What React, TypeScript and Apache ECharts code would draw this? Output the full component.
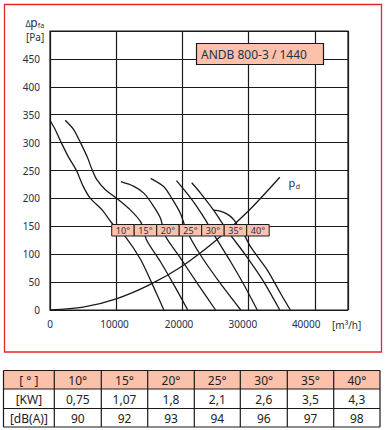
import React, { useEffect, useRef } from "react";
import * as echarts from "echarts";

// ---- data ----
const xTicks = [0, 10000, 20000, 30000, 40000];
const yTicks = [0, 50, 100, 150, 200, 250, 300, 350, 400, 450];

const curve10 = [[0, 340], [800, 323], [1700, 300], [2800, 274], [4000, 250], [5000, 222], [6100, 200], [7900, 179], [9400, 155], [11400, 131], [13700, 90], [15500, 45], [17200, 0]];
const curve15 = [[2300, 340], [3600, 323], [4600, 300], [5600, 275], [6400, 250], [7100, 233], [8400, 215], [10100, 200], [11900, 182], [13700, 158], [14600, 125], [16700, 86], [18900, 41], [20800, 0]];
const curve20 = [[10700, 230], [12600, 222], [14200, 209], [15700, 185], [16700, 164], [17400, 133], [19700, 93], [22400, 45], [25000, 0]];
const curve25 = [[15200, 236], [17200, 221], [18400, 200], [19700, 173], [20600, 143], [22700, 99], [25700, 48], [28800, 0]];
const curve30 = [[19100, 232], [20700, 209], [22200, 185], [23500, 161], [24500, 140], [27300, 86], [29200, 47], [31300, 0]];
const curve35 = [[21400, 228], [22700, 210], [24700, 179], [25700, 161], [26900, 140], [29500, 99], [32100, 54], [34700, 0]];
const curve40 = [[24700, 179], [25700, 177], [27000, 170], [27800, 161], [28300, 152], [29100, 140], [30300, 113], [32800, 72], [34800, 30], [36300, 0]];
const curvePd = [[0, 0], [5000, 5], [10000, 20], [15000, 45], [20000, 79], [25000, 124], [30000, 178], [34700, 238]];

const curveNames = ["10°", "15°", "20°", "25°", "30°", "35°", "40°"];
const curves = [curve10, curve15, curve20, curve25, curve30, curve35, curve40];

const tableHeader = "[ ° ]";
const angles = ["10°", "15°", "20°", "25°", "30°", "35°", "40°"];
const powerLabel = "[KW]";
const power = ["0,75", "1,07", "1,8", "2,1", "2,6", "3,5", "4,3"];
const noiseLabel = "[dB(A)]";
const noise = ["90", "92", "93", "94", "96", "97", "98"];

const FONT = '"Noto Sans", "Open Sans", sans-serif';
const TXT = "#23304a";
const INK = "#1a1a1a";
const SALMON = "#FCC1AA";

function txt(text: string, x: number, y: number, size: number, align = "center", fill = TXT) {
  return {
    type: "text",
    z: 100,
    style: {
      text, x, y, fill,
      font: `${size}px ${FONT}`,
      align, verticalAlign: "middle",
      textAlign: align, textVerticalAlign: "middle",
    },
  };
}

export default function App() {
  const ref = useRef<HTMLDivElement>(null);
  useEffect(() => {
    const chart = echarts.init(ref.current!, null, { renderer: "svg" });
    const graphics: any[] = [];
    // red frame
    graphics.push({ type: "rect", z: 100, shape: { x: 4.5, y: 4.5, width: 377, height: 347.5 }, style: { fill: "none", stroke: "#E5262C", lineWidth: 1.3 } });
    // title box
    graphics.push({ type: "rect", z: 100, shape: { x: 196.5, y: 43.5, width: 127, height: 21 }, style: { fill: SALMON, stroke: INK, lineWidth: 1.2 } });
    graphics.push(txt("ANDB 800-3 / 1440", 201, 54.5, 12, "left"));
    // axis name
    graphics.push(txt("Δ", 28, 23.5, 8));
    graphics.push(txt("p", 34, 22.5, 12));
    graphics.push(txt("fa", 41, 25, 7));
    graphics.push(txt("[Pa]", 26, 36.5, 10, "left"));
    graphics.push(txt("[m³/h]", 332, 325, 10, "left"));
    // p_d
    graphics.push(txt("p", 292, 182.5, 11));
    graphics.push(txt("d", 298, 186, 7));
    // angle label cells
    const cellLeft = 111.7, cellW = 22.5, cellTop = 224.5, cellH = 11.5;
    curveNames.forEach((n, i) => {
      graphics.push({ type: "rect", z: 100, shape: { x: cellLeft + i * cellW, y: cellTop, width: cellW, height: cellH }, style: { fill: SALMON, stroke: INK, lineWidth: 1 } });
      graphics.push(txt(n, cellLeft + i * cellW + cellW / 2, cellTop + cellH / 2 + 0.5, 9));
    });
    // table
    const cx = [3.5, 54.3, 101.3, 147.7, 194.3, 240.3, 287.3, 333.7, 380];
    const ry = [370.5, 389, 408.5, 427];
    graphics.push({ type: "rect", z: 100, shape: { x: cx[0], y: ry[0], width: cx[8] - cx[0], height: ry[1] - ry[0] }, style: { fill: SALMON, stroke: "none" } });
    cx.forEach((x) => graphics.push({ type: "line", z: 101, shape: { x1: x, y1: ry[0], x2: x, y2: ry[3] }, style: { stroke: INK, lineWidth: 1.2 } }));
    ry.forEach((y) => graphics.push({ type: "line", z: 101, shape: { x1: cx[0], y1: y, x2: cx[8], y2: y }, style: { stroke: INK, lineWidth: 1.2 } }));
    const rows = [[tableHeader, ...angles], [powerLabel, ...power], [noiseLabel, ...noise]];
    rows.forEach((row, r) => {
      row.forEach((t, c) => {
        graphics.push(txt(t, (cx[c] + cx[c + 1]) / 2, (ry[r] + ry[r + 1]) / 2 + 0.5, 12, "center", "#222"));
      });
    });

    const lineSeries = curves.map((d, i) => ({
      name: curveNames[i], type: "line", data: d, smooth: 0.25, symbol: "none",
      lineStyle: { color: INK, width: 1.3 }, z: 3,
    }));
    lineSeries.push({ name: "pd", type: "line", data: curvePd, smooth: 0.3, symbol: "none", lineStyle: { color: INK, width: 1.3 }, z: 3 } as any);

    // the original's tick labels drift slightly left of their grid lines
    const xLabelRich: any = {};
    const xShift = [0, 3.4, 6.8, 11.6, 17.4];
    xTicks.forEach((t, i) => {
      xLabelRich["s" + i] = { color: TXT, fontSize: 10, fontFamily: FONT, padding: [0, xShift[i], 0, 0] };
    });

    chart.setOption({
      animation: false,
      grid: { left: 50, top: 31, width: 298, height: 279, show: true, borderColor: INK, borderWidth: 1.2, backgroundColor: "transparent" },
      xAxis: {
        type: "value", min: 0, max: 45000, interval: 10000,
        axisLine: { show: false }, axisTick: { show: false },
        splitLine: { show: true, lineStyle: { color: INK, width: 1.2 } },
        axisLabel: {
          color: TXT, fontSize: 10, fontFamily: FONT, margin: 9, showMaxLabel: false,
          rich: xLabelRich,
          formatter: (v: number) => {
            const i = xTicks.indexOf(v);
            return i >= 0 ? `{s${i}|${v}}` : "";
          },
        },
      },
      yAxis: {
        type: "value", min: 0, max: 500, interval: 50,
        axisLine: { show: false }, axisTick: { show: false },
        splitLine: { show: true, lineStyle: { color: INK, width: 1.2 } },
        axisLabel: { color: TXT, fontSize: 10, fontFamily: FONT, margin: 10, formatter: (v: number) => (yTicks.includes(v) ? String(v) : "") },
      },
      series: lineSeries,
      graphic: graphics,
    });
    return () => chart.dispose();
  }, []);
  return <div ref={ref} style={{ position: "fixed", left: 0, top: 0, width: 386, height: 430, background: "#fff" }} />;
}
